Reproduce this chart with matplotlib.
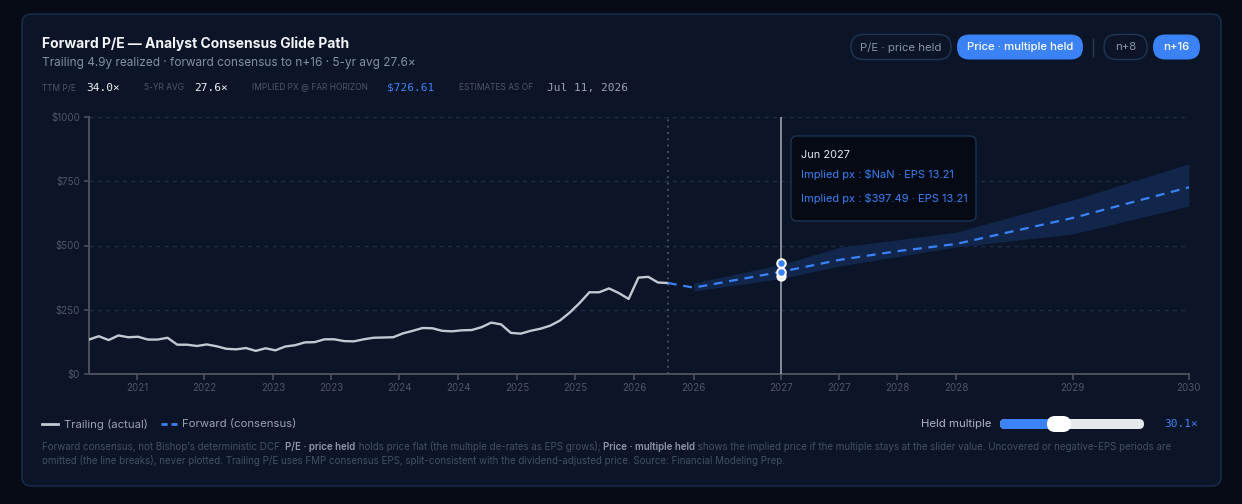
import numpy as np
import pandas as pd
import matplotlib as mpl
import matplotlib.pyplot as plt
from matplotlib.patches import FancyBboxPatch

plt.switch_backend('Agg')

# ---- data -------------------------------------------------------------
trailing_start = '2021-07-22'
trailing_end = '2026-07-11'
trailing_px = [134, 147, 132, 150, 143, 145, 134, 134, 141, 114,
               114, 109, 115, 108, 98, 96, 101, 90, 100, 92,
               107, 112, 123, 124, 135, 135, 128, 127, 135, 141,
               142, 143, 158, 168, 179, 178, 168, 166, 170, 171,
               182, 200, 193, 160, 157, 168, 176, 188, 208, 239,
               276, 318, 318, 333, 315, 292, 375, 378, 356, 354]

fwd_dates = ['2026-07-11', '2026-09-30', '2027-06-30', '2027-12-31',
             '2028-06-30', '2028-12-31', '2029-12-31', '2030-12-31']
fwd_px = [354, 336, 397.49, 444, 478, 506, 607, 726.61]

band_dates = fwd_dates[1:]
band_low = [323, 371, 420, 457, 494, 545, 654]
band_high = [354, 426, 493, 522, 552, 677, 818]

hover_date = '2027-06-30'
hover_vals = [433, 398, 381]

tick_dates = ['2021-12-20', '2022-07-18', '2023-02-20', '2023-08-20',
              '2024-03-20', '2024-09-22', '2025-03-25', '2025-09-24',
              '2026-03-28', '2026-09-30', '2027-06-30', '2027-12-31',
              '2028-06-30', '2028-12-31', '2029-12-31', '2030-12-31']
tick_labels = ['2021', '2022', '2023', '2023', '2024', '2024', '2025',
               '2025', '2026', '2026', '2027', '2027', '2028', '2028',
               '2029', '2030']
y_ticks = [0, 250, 500, 750, 1000]
y_labels = ['$0', '$250', '$500', '$750', '$1000']

# ---- styling ----------------------------------------------------------
W, H = 1242, 504
OUTER_BG = '#060b16'
CARD_BG = '#0b1527'
CARD_EDGE = '#1a3050'
BLUE = '#3b82f6'
MUTED = '#4d5769'
SUB = '#8390a3'
SANS = ['Inter', 'DejaVu Sans']
MONO = ['DejaVu Sans Mono']

mpl.rcParams['font.family'] = SANS

fig = plt.figure(figsize=(W / 100, H / 100), dpi=100)
fig.patch.set_facecolor(OUTER_BG)

# background / overlay axes in pixel units (y down)
bg = fig.add_axes([0, 0, 1, 1], zorder=0)
bg.set_xlim(0, W)
bg.set_ylim(H, 0)
bg.axis('off')

ov = fig.add_axes([0, 0, 1, 1], zorder=10)
ov.set_xlim(0, W)
ov.set_ylim(H, 0)
ov.axis('off')
ov.patch.set_alpha(0)


def rbox(axes, x0, y0, x1, y1, r, fc, ec='none', lw=1.0, z=1):
    p = FancyBboxPatch((x0, y0), x1 - x0, y1 - y0,
                       boxstyle=f'round,pad=0,rounding_size={r}',
                       fc=fc, ec=ec, lw=lw, zorder=z)
    axes.add_patch(p)
    return p


rbox(bg, 22, 14, 1221, 486, 9, CARD_BG, CARD_EDGE, 1.0)

# ---- main chart -------------------------------------------------------
ax = fig.add_axes([89 / W, 1 - 374 / H, 1100 / W, 257 / H], zorder=5)
ax.patch.set_alpha(0)

t_dates = pd.date_range(trailing_start, trailing_end, periods=len(trailing_px))
f_dates = pd.to_datetime(fwd_dates)
b_dates = pd.to_datetime(band_dates)

ax.set_xlim(pd.Timestamp(trailing_start), pd.Timestamp('2030-12-31'))
ax.set_ylim(0, 1000)

for v in y_ticks[1:]:
    ax.axhline(v, color='#1f2d47', lw=1.0, ls=(0, (3, 3)), zorder=1)

ax.fill_between(b_dates, band_low, band_high, color='#11264a', lw=0,
                zorder=2)
ax.plot(t_dates, trailing_px, color='#c3c9d3', lw=1.7, zorder=4,
        solid_joinstyle='round')
ax.plot(f_dates, fwd_px, color=BLUE, lw=1.6, ls=(0, (4, 3)), zorder=4)

ax.axvline(pd.Timestamp(trailing_end), color='#4a5365', lw=1.3,
           ls=(0, (1, 2.5)), zorder=3)
ax.axvline(pd.Timestamp(hover_date), color='#9aa2ae', lw=1.2, zorder=3)

hd = pd.Timestamp(hover_date)
ax.scatter([hd], [hover_vals[2]], s=38, color='#e8ebf0',
           edgecolor='white', lw=1.2, zorder=6)
ax.scatter([hd, hd], hover_vals[:2], s=38, color=BLUE,
           edgecolor='white', lw=1.4, zorder=7)

for side in ['top', 'right']:
    ax.spines[side].set_visible(False)
for side in ['left', 'bottom']:
    ax.spines[side].set_color('#4a4f5a')
    ax.spines[side].set_linewidth(1.4)

ax.set_yticks(y_ticks)
ax.set_yticklabels(y_labels)
ax.set_xticks(pd.to_datetime(tick_dates))
ax.set_xticklabels(tick_labels)
ax.tick_params(axis='both', colors='#4a4f5a', labelcolor=MUTED,
               labelsize=7, width=1.2)
ax.tick_params(axis='y', length=3.5, pad=3)
ax.tick_params(axis='x', length=4, pad=2.5)

# ---- header -----------------------------------------------------------
ov.text(42, 44, 'Forward P/E — Analyst Consensus Glide Path', color='#f3f5f8',
        fontsize=10, fontweight='bold', va='center')
ov.text(42, 63, 'Trailing 4.9y realized · forward consensus to n+16 · '
        '5-yr avg 27.6×', color=SUB, fontsize=8.5, va='center')

stats = [(42, 'TTM P/E', 86, '34.0×', '#eef1f5'),
         (144, '5-YR AVG', 194, '27.6×', '#eef1f5'),
         (252, 'IMPLIED PX @ FAR HORIZON', 387, '$726.61', BLUE),
         (459, 'ESTIMATES AS OF', 547, 'Jul 11, 2026', '#9aa3b1')]
for lx, lab, vx, val, vc in stats:
    ov.text(lx, 88, lab, color=MUTED, fontsize=6, va='center')
    ov.text(vx, 88, val, color=vc, fontsize=8, va='center', family=MONO)

# toggle pills
pills = [(851, 951, 'P/E · price held', False),
         (957, 1083, 'Price · multiple held', True),
         (1104, 1147, 'n+8', False),
         (1153, 1200, 'n+16', True)]
for x0, x1, lab, active in pills:
    if active:
        rbox(ov, x0, 34.5, x1, 59.5, 12.5, BLUE, z=2)
        ov.text((x0 + x1) / 2, 47.5, lab, color='white', fontsize=8.2,
                ha='center', va='center', fontweight='medium', zorder=3)
    else:
        rbox(ov, x0, 34.5, x1, 59.5, 12.5, 'none', '#1f3656', 1.0, z=2)
        ov.text((x0 + x1) / 2, 47.5, lab, color='#8a95a6', fontsize=8.2,
                ha='center', va='center', zorder=3)
ov.plot([1093, 1093], [39, 56], color='#2a3a52', lw=1.0)

# ---- tooltip ----------------------------------------------------------
rbox(ov, 791, 136, 976, 221, 6, '#050a14', '#1b3352', 1.0, z=2)
ov.text(801, 155, 'Jun 2027', color='#e6e9ee', fontsize=7.9, va='center',
        zorder=3)
ov.text(801, 175, 'Implied px : $NaN · EPS 13.21', color=BLUE,
        fontsize=7.9, va='center', zorder=3)
ov.text(801, 199, 'Implied px : $397.49 · EPS 13.21', color=BLUE,
        fontsize=7.9, va='center', zorder=3)

# ---- legend + slider --------------------------------------------------
ov.plot([42, 58], [424, 424], color='#c3c9d3', lw=2)
ov.text(64, 424, 'Trailing (actual)', color='#9aa3b1', fontsize=8.2,
        va='center')
ov.plot([161, 177], [424, 424], color=BLUE, lw=2, ls=(0, (2.2, 1.4)))
ov.text(182, 424, 'Forward (consensus)', color='#9aa3b1', fontsize=8.2,
        va='center')

ov.text(991, 424, 'Held multiple', color='#aeb6c3', fontsize=8.2,
        ha='right', va='center')
rbox(ov, 1000, 419, 1144, 429, 5, '#e8e9ec', z=2)
rbox(ov, 1000, 419, 1060, 429, 5, BLUE, z=3)
rbox(ov, 1047, 416, 1071, 432, 8, 'white', z=4)
ov.text(1198, 424, '30.1×', color=BLUE, fontsize=8, ha='right',
        va='center', family=MONO)

# ---- footnote with bold runs ------------------------------------------
renderer = fig.canvas.get_renderer()
foot = [
    [('Forward consensus, not Bishop’s deterministic DCF. ', False),
     ('P/E · price held', True),
     (' holds price flat (the multiple de-rates as EPS grows); ', False),
     ('Price · multiple held', True),
     (' shows the implied price if the multiple stays at the slider value. '
      'Uncovered or negative-EPS periods are', False)],
    [('omitted (the line breaks), never plotted. Trailing P/E uses FMP '
      'consensus EPS, split-consistent with the dividend-adjusted price. '
      'Source: Financial Modeling Prep.', False)],
]
for row, yy in zip(foot, [447, 460]):
    xx = 42
    for seg, bold in row:
        t = ov.text(xx, yy, seg, color='#8e97a6' if bold else '#465063',
                    fontsize=7.03, va='center',
                    fontweight='semibold' if bold else 'normal')
        bb = t.get_window_extent(renderer)
        xx += bb.width

fig.savefig('out.png', dpi=100, facecolor=OUTER_BG)
plt.close(fig)
